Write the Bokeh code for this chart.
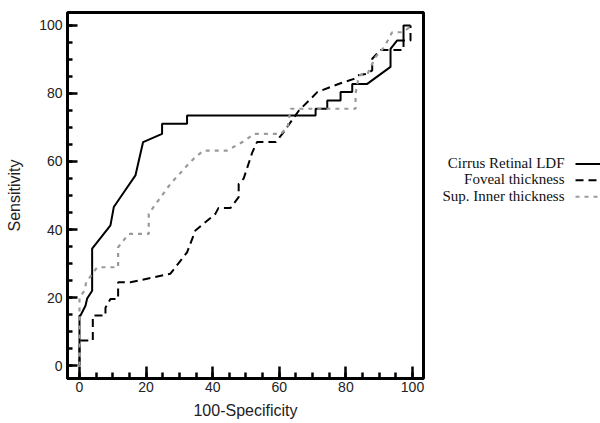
from bokeh.plotting import figure
from bokeh.models import Range1d, FixedTicker
from bokeh.layouts import row
from bokeh.embed import file_html
from bokeh.resources import INLINE

# ---- data ----
cirrus_x = [0, 0, 0.3, 1.8, 2.3, 3.8, 3.8, 9.3, 10.3, 12.3, 16.8, 19.1, 24.8, 24.8, 32.3, 32.3,
            70.9, 70.9, 74.4, 74.4, 78.4, 78.4, 81.9, 81.9, 86.4, 93.4, 93.4, 95.4, 97.3, 97.3, 99.4]
cirrus_y = [0, 14.7, 14.7, 17.6, 19.7, 22, 34.4, 41.2, 46.6, 49.5, 55.9, 65.7, 68.1, 71.1, 71.1, 73.5,
            73.5, 75.5, 75.5, 77.9, 77.9, 80.4, 80.4, 82.8, 82.8, 87.8, 93.1, 95.6, 95.6, 100, 100]

fov_x = [0, 0, 4.0, 4.0, 7.8, 7.8, 9.3, 11.6, 11.6, 15.3, 27.3, 32.3, 34.8, 40.8, 41.7, 45.3, 47.8, 47.8,
         49.3, 51.9, 53.3, 58.9, 60.9, 65.9, 69.9, 71.4, 75.4, 78.4, 82.4, 83.4, 86.4, 87.9, 87.9,
         90.4, 97.3, 97.3, 99.4, 99.4]
fov_y = [0, 7.4, 7.4, 14.7, 14.7, 17.0, 19.6, 19.6, 24.5, 24.5, 27.0, 33.3, 39.7, 44.6, 46.3, 46.3, 49.5, 53.4,
         55.0, 62.7, 65.7, 65.7, 68.1, 75.0, 78.9, 80.4, 81.9, 83.0, 84.3, 85.3, 85.8, 86.8, 90.2,
         92.8, 92.8, 95.6, 95.6, 100]

sup_x = [0, 0, 1.5, 2.0, 5.3, 11.6, 11.6, 14.8, 20.8, 20.8, 22.5, 27.3, 32.3, 34.8, 37.3, 44.3, 49.8, 52.3,
         60.4, 62.5, 63.4, 82.9, 82.9, 83.9, 86.4, 88.9, 91.4, 92.8, 93.9, 97.0, 100]
sup_y = [0, 20, 22, 24.5, 28.9, 28.9, 34.8, 38.7, 38.7, 44.6, 47.0, 53.4, 58.8, 61.3, 63.2, 63.2, 66.2, 68.1,
         68.1, 70.0, 75.5, 75.5, 80.0, 85.3, 85.6, 90.7, 93.5, 96.0, 98.0, 98.0, 100]

series_names = ["Cirrus Retinal LDF", "Foveal thickness", "Sup. Inner thickness"]
x_ticks = [0, 20, 40, 60, 80, 100]
y_ticks = [0, 20, 40, 60, 80, 100]
minor_ticks = list(range(0, 101, 5))

GRAY = "#9a9a9a"

p = figure(width=433, height=423, output_backend="svg", toolbar_location=None,
           x_range=Range1d(-3.6, 103.3), y_range=Range1d(-3.8, 103.8),
           min_border_left=67, min_border_right=10, min_border_top=12, min_border_bottom=45)
p.grid.visible = False
p.outline_line_color = "black"
p.outline_line_width = 3
p.background_fill_color = "white"
p.border_fill_color = "white"

p.line(cirrus_x, cirrus_y, line_color="black", line_width=2)
p.line(fov_x, fov_y, line_color="black", line_width=2, line_dash="8 5")
p.line(sup_x, sup_y, line_color=GRAY, line_width=2.2, line_dash="4 5")

for ax, ticks, lab in ((p.xaxis[0], x_ticks, "100-Specificity"), (p.yaxis[0], y_ticks, "Sensitivity")):
    ax.ticker = FixedTicker(ticks=ticks, minor_ticks=minor_ticks)
    ax.axis_label = lab
    ax.axis_line_width = 3
    ax.axis_line_color = "black"
    ax.major_tick_out = 0
    ax.minor_tick_out = 0
    ax.major_tick_line_width = 2.5
    ax.minor_tick_line_width = 2.5
    ax.major_tick_line_color = "black"
    ax.minor_tick_line_color = "black"
    ax.major_label_text_font = "Liberation Sans"
    ax.major_label_text_font_size = "14px"
    ax.major_label_text_color = "#222222"
    ax.axis_label_text_font = "Liberation Sans"
    ax.axis_label_text_font_size = "16px"
    ax.axis_label_text_font_style = "normal"
    ax.axis_label_text_color = "#222222"

p.xaxis.major_tick_in = 12
p.xaxis.minor_tick_in = 6
p.yaxis.major_tick_in = 10
p.yaxis.minor_tick_in = 5
p.xaxis.major_label_standoff = 3
p.xaxis.axis_label_standoff = 7
p.yaxis.major_label_standoff = 5
p.yaxis.axis_label_standoff = 13

# ---- legend panel (text on the left, line sample on the right) ----
lg = figure(width=167, height=423, output_backend="svg", toolbar_location=None,
            x_range=Range1d(0, 167), y_range=Range1d(423, 0),
            min_border=0, min_border_left=0, min_border_right=0, min_border_top=0, min_border_bottom=0)
lg.axis.visible = False
lg.grid.visible = False
lg.outline_line_color = None
lg.background_fill_color = "white"
lg.border_fill_color = "white"

text_y = [174, 193, 212]
line_y = [175, 194, 213]
lg.text(x=[131] * 3, y=text_y, text=series_names, text_align="right", text_baseline="middle",
        text_font={"value": "Liberation Serif"}, text_font_size="15px", text_color="#111111")
lg.segment(x0=[142], y0=[line_y[0]], x1=[167], y1=[line_y[0]], line_color="black", line_width=2)
lg.segment(x0=[142], y0=[line_y[1]], x1=[167], y1=[line_y[1]], line_color="black", line_width=2,
           line_dash="8 5")
lg.segment(x0=[142], y0=[line_y[2]], x1=[167], y1=[line_y[2]], line_color=GRAY, line_width=2,
           line_dash="4 5")

layout = row(p, lg, spacing=0)
open("out.html", "w").write(file_html(layout, INLINE))
